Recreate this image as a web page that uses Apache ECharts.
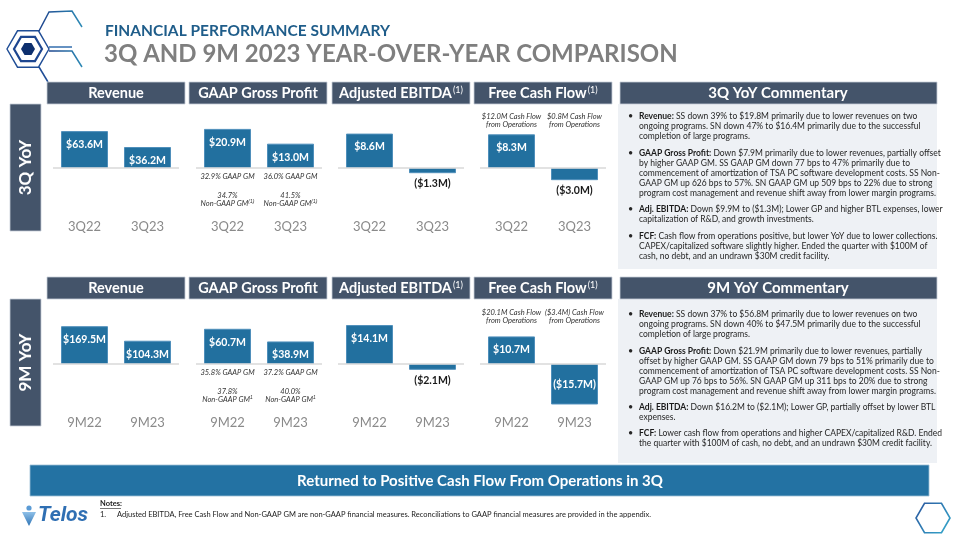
<!DOCTYPE html>
<html><head><meta charset="utf-8">
<script src="https://cdn.jsdelivr.net/npm/echarts@6/dist/echarts.min.js"></script>
<style>html,body{margin:0;padding:0;background:#fff}#c{width:960px;height:540px}</style>
</head><body><div id="c"></div>
<script>
// ---------------- DATA ----------------
const cats3Q = ['3Q22', '3Q23'];
const cats9M = ['9M22', '9M23'];
const revenue3Q = [63.6, 36.2];
const grossProfit3Q = [20.9, 13.0];
const ebitda3Q = [8.6, -1.3];
const fcf3Q = [8.3, -3.0];
const revenue9M = [169.5, 104.3];
const grossProfit9M = [60.7, 38.9];
const ebitda9M = [14.1, -2.1];
const fcf9M = [10.7, -15.7];
const gaapGM3Q = ['32.9% GAAP GM', '36.0% GAAP GM'];
const nonGaapGM3Q = ['34.7%', '41.5%'];
const gaapGM9M = ['35.8% GAAP GM', '37.2% GAAP GM'];
const nonGaapGM9M = ['37.8%', '40.0%'];
const cfo3Q = ['$12.0M Cash Flow', '$0.8M Cash Flow'];
const cfo9M = ['$20.1M Cash Flow', '($3.4M) Cash Flow'];
const panelTitles = ['Revenue', 'GAAP Gross Profit', 'Adjusted EBITDA', 'Free Cash Flow'];
const panelSups = ['', '', '(1)', '(1)'];

const commentary3Q = [
  ['Revenue:', 'SS down 39% to $19.8M primarily due to lower revenues on two', 'ongoing programs. SN down 47% to $16.4M primarily due to the successful', 'completion of large programs.'],
  ['GAAP Gross Profit:', 'Down $7.9M primarily due to lower revenues, partially offset', 'by higher GAAP GM. SS GAAP GM down 77 bps to 47% primarily due to', 'commencement of amortization of TSA PC software development costs. SS Non-', 'GAAP GM up 626 bps to 57%. SN GAAP GM up 509 bps to 22% due to strong', 'program cost management and revenue shift away from lower margin programs.'],
  ['Adj. EBITDA:', 'Down $9.9M to ($1.3M); Lower GP and higher BTL expenses, lower', 'capitalization of R&D, and growth investments.'],
  ['FCF:', 'Cash flow from operations positive, but lower YoY due to lower collections.', 'CAPEX/capitalized software slightly higher. Ended the quarter with $100M of', 'cash, no debt, and an undrawn $30M credit facility.']
];
const commentary9M = [
  ['Revenue:', 'SS down 37% to $56.8M primarily due to lower revenues on two', 'ongoing programs. SN down 40% to $47.5M primarily due to the successful', 'completion of large programs.'],
  ['GAAP Gross Profit:', 'Down $21.9M primarily due to lower revenues, partially', 'offset by higher GAAP GM. SS GAAP GM down 79 bps to 51% primarily due to', 'commencement of amortization of TSA PC software development costs. SS Non-', 'GAAP GM up 76 bps to 56%. SN GAAP GM up 311 bps to 20% due to strong', 'program cost management and revenue shift away from lower margin programs.'],
  ['Adj. EBITDA:', 'Down $16.2M to ($2.1M); Lower GP, partially offset by lower BTL', 'expenses.'],
  ['FCF:', 'Lower cash flow from operations and higher CAPEX/capitalized R&D. Ended', 'the quarter with $100M of cash, no debt, and an undrawn $30M credit facility.']
];

// ---------------- LAYOUT / STYLE ----------------
const FONT = 'Lato, "Liberation Sans", Arial, sans-serif';
const HEAD = '#44546a';
const BAR = '#22709f';
const rows = [
  { top: 110, zero: 168, bottom: 215, header: 82, cats: cats3Q,
    series: [revenue3Q, grossProfit3Q, ebitda3Q, fcf3Q], maxes: [100, 31, 14.5, 14.3],
    gm: gaapGM3Q, ngm: nonGaapGM3Q, ngmLabel: 'Non-GAAP GM{s|(1)}', cfo: cfo3Q,
    comm: commentary3Q, commTitle: '3Q YoY Commentary', commY: [116, 153, 209, 236], side: '3Q YoY', sideY: 104 },
  { top: 306, zero: 364, bottom: 411, header: 277, cats: cats9M,
    series: [revenue9M, grossProfit9M, ebitda9M, fcf9M], maxes: [260, 100, 21, 22.5],
    gm: gaapGM9M, ngm: nonGaapGM9M, ngmLabel: 'Non-GAAP GM{s|1}', cfo: cfo9M,
    comm: commentary9M, commTitle: '9M YoY Commentary', commY: [314, 351, 407, 433], side: '9M YoY', sideY: 299 }
];
const gridLefts = [53, 196, 338, 480];
const headerX = [[47, 185], [189, 327], [332, 470], [474, 612]];

const fmt = v => v < 0 ? '($' + Math.abs(v).toFixed(1) + 'M)' : '$' + v.toFixed(1) + 'M';

const grids = [], xAxes = [], yAxes = [], series = [];
let gi = 0;
rows.forEach((r, ri) => {
  r.series.forEach((vals, pi) => {
    const max = r.maxes[pi];
    grids.push({ left: gridLefts[pi], width: 126, top: r.top, height: r.bottom - r.top });
    xAxes.push({ type: 'category', gridIndex: gi, data: r.cats,
      axisLine: { show: false, onZero: false }, axisTick: { show: false },
      axisLabel: { color: '#8a8a8a', fontSize: 13, fontFamily: FONT, margin: 5 } });
    yAxes.push({ type: 'value', gridIndex: gi, show: false, max: max,
      min: -max * (r.bottom - r.zero) / (r.zero - r.top) });
    series.push({
      type: 'bar', xAxisIndex: gi, yAxisIndex: gi, barWidth: 47,
      itemStyle: { color: BAR, borderColor: '#4f8fbb', borderWidth: 1 },
      label: { show: true, formatter: p => fmt(p.value), color: '#fff', fontWeight: 'bold', fontSize: 10.5, fontFamily: FONT },
      data: vals.map(v => {
        let lab;
        if (v >= 0) lab = { position: 'insideTop', distance: 8 };
        else if (Math.abs(v) < max * 0.4) lab = { position: 'outside', distance: 5, color: '#1a1a1a' };
        else lab = { position: 'inside' };
        return { value: v, label: lab };
      }),
      markLine: { silent: true, symbol: 'none', label: { show: false },
        lineStyle: { color: '#d9d9d9', type: 'solid', width: 1.5 }, data: [{ yAxis: 0 }] }
    });
    gi++;
  });
});

// ---------------- STATIC GRAPHICS ----------------
const G = [];
function hexPts(cx, cy, r) {
  const pts = [];
  for (let k = 0; k < 6; k++) { const a = Math.PI / 3 * k; pts.push([cx + r * Math.cos(a), cy + r * Math.sin(a)]); }
  return pts;
}
// logo top-left
const logoGrad = { type: 'linear', x: 0, y: 0, x2: 1, y2: 0, colorStops: [{ offset: 0, color: '#1c3f8a' }, { offset: 1, color: '#2f8fb8' }] };
G.push({ type: 'polygon', shape: { points: hexPts(28, 49, 21) }, style: { fill: 'none', stroke: '#1f4d96', lineWidth: 1.4 } });
G.push({ type: 'polygon', shape: { points: hexPts(28, 49, 14) }, style: { fill: 'none', stroke: '#1d4690', lineWidth: 2.2 } });
G.push({ type: 'polygon', shape: { points: hexPts(28, 49, 7) }, style: { fill: '#0d2f6e' } });
G.push({ type: 'polyline', shape: { points: [[39, 31], [49, 12], [72, 11], [82, 27]] }, style: { stroke: logoGrad, lineWidth: 1.5, fill: 'none' } });
G.push({ type: 'polyline', shape: { points: [[49, 47], [72, 47]] }, style: { stroke: '#2563a8', lineWidth: 1.4, fill: 'none' } });
G.push({ type: 'polyline', shape: { points: [[49, 51], [72, 51], [82, 67]] }, style: { stroke: logoGrad, lineWidth: 1.5, fill: 'none' } });
G.push({ type: 'polyline', shape: { points: [[39, 67], [48, 82]] }, style: { stroke: '#1f4d96', lineWidth: 1.5, fill: 'none' } });
// titles
G.push({ type: 'text', style: { x: 105, y: 31, text: 'FINANCIAL PERFORMANCE SUMMARY', fill: '#1f5d8a', fontSize: 15.5, fontWeight: 'bold', fontFamily: FONT, verticalAlign: 'middle' } });
G.push({ type: 'text', style: { x: 104, y: 54, text: '3Q AND 9M 2023 YEAR-OVER-YEAR COMPARISON', fill: '#7f7f7f', fontSize: 24, fontWeight: 'bold', fontFamily: FONT, verticalAlign: 'middle' } });

rows.forEach(r => {
  // side label
  G.push({ type: 'rect', shape: { x: 10, y: r.sideY, width: 31, height: 127 }, style: { fill: HEAD, stroke: '#c7ced8', lineWidth: 0.8 } });
  G.push({ type: 'text', x: 26, y: r.sideY + 63.5, rotation: Math.PI / 2,
    style: { x: 0, y: 0, text: r.side, fill: '#fff', fontSize: 17, fontWeight: 'bold', fontFamily: FONT, align: 'center', verticalAlign: 'middle' } });
  // panel headers
  headerX.forEach((hx, pi) => {
    G.push({ type: 'rect', shape: { x: hx[0], y: r.header, width: hx[1] - hx[0], height: 22 }, style: { fill: HEAD, stroke: '#c7ced8', lineWidth: 0.8 } });
    G.push({ type: 'text', style: { x: (hx[0] + hx[1]) / 2, y: r.header + 11.5,
      text: panelTitles[pi] + (panelSups[pi] ? '{s|' + panelSups[pi] + '}' : ''),
      rich: { s: { fontSize: 9, fill: '#fff', fontFamily: FONT, verticalAlign: 'top', padding: [0, 0, 6, 1] } },
      fill: '#fff', fontSize: 14.5, fontWeight: 'bold', fontFamily: FONT, align: 'center', verticalAlign: 'middle' } });
  });
  // commentary
  G.push({ type: 'rect', shape: { x: 618, y: r.header + 22, width: 319, height: r.header === 82 ? 165 : 164 }, style: { fill: '#eef1f5' } });
  G.push({ type: 'rect', shape: { x: 620, y: r.header, width: 317, height: 22 }, style: { fill: HEAD, stroke: '#c7ced8', lineWidth: 0.8 } });
  G.push({ type: 'text', style: { x: 778, y: r.header + 11.5, text: r.commTitle, fill: '#fff', fontSize: 15, fontWeight: 'bold', fontFamily: FONT, align: 'center', verticalAlign: 'middle' } });
  r.comm.forEach((item, k) => {
    const y0 = r.commY[k];
    G.push({ type: 'text', style: { x: 628, y: y0, text: '•', fill: '#262626', fontSize: 9, fontFamily: FONT, verticalAlign: 'middle' } });
    item.slice(1).forEach((line, li) => {
      const t = li === 0 ? '{b|' + item[0] + '} ' + line : line;
      G.push({ type: 'text', style: { x: 639, y: y0 + li * 10, text: t,
        rich: { b: { fontWeight: 'bold', fontSize: 8.5, fontFamily: FONT, fill: '#1a1a1a' } },
        fill: '#262626', fontSize: 8.5, fontFamily: FONT, verticalAlign: 'middle' } });
    });
  });
});
// banner
G.push({ type: 'rect', shape: { x: 30, y: 465, width: 899, height: 31 }, style: { fill: '#2372a3', stroke: '#9dbfd6', lineWidth: 0.8 } });
G.push({ type: 'text', style: { x: 480, y: 481, text: 'Returned to Positive Cash Flow From Operations in 3Q', fill: '#fff', fontSize: 15, fontWeight: 'bold', fontFamily: FONT, align: 'center', verticalAlign: 'middle' } });
// notes
G.push({ type: 'text', style: { x: 100, y: 504, text: 'Notes:', fill: '#1a1a1a', fontSize: 7.5, fontWeight: 'bold', fontFamily: FONT, verticalAlign: 'middle' } });
G.push({ type: 'line', shape: { x1: 100, y1: 508.5, x2: 121, y2: 508.5 }, style: { stroke: '#1a1a1a', lineWidth: 0.6 } });
G.push({ type: 'text', style: { x: 100, y: 515, text: '1.', fill: '#1a1a1a', fontSize: 7.5, fontFamily: FONT, verticalAlign: 'middle' } });
G.push({ type: 'text', style: { x: 117, y: 515, text: 'Adjusted EBITDA, Free Cash Flow and Non-GAAP GM are non-GAAP financial measures. Reconciliations to GAAP financial measures are provided in the appendix.', fill: '#1a1a1a', fontSize: 7.5, fontFamily: FONT, verticalAlign: 'middle' } });
// Telos logo
G.push({ type: 'circle', shape: { cx: 29, cy: 508, r: 2.6 }, style: { fill: '#5b9bd5' } });
G.push({ type: 'polygon', shape: { points: [[22, 512], [36, 512], [29, 526]] }, style: { fill: { type: 'linear', x: 0, y: 0, x2: 0, y2: 1, colorStops: [{ offset: 0, color: '#8fc0e8' }, { offset: 1, color: '#2f74b5' }] } } });
G.push({ type: 'text', style: { x: 38, y: 516, text: 'Telos', fill: '#2f6fb3', fontSize: 21, fontWeight: 'bold', fontStyle: 'italic', fontFamily: '"Liberation Sans Narrow", "Roboto", ' + FONT, verticalAlign: 'middle' } });
// bottom-right hexagon
G.push({ type: 'polygon', shape: { points: hexPts(933, 518, 17) }, style: { fill: 'none', lineWidth: 1.6,
  stroke: { type: 'linear', x: 0, y: 0, x2: 1, y2: 1, colorStops: [{ offset: 0, color: '#2a4f9a' }, { offset: 1, color: '#36b0d0' }] } } });

const chart = echarts.init(document.getElementById('c'), null, { renderer: 'canvas' });
chart.setOption({
  animation: false,
  backgroundColor: '#ffffff',
  grid: grids, xAxis: xAxes, yAxis: yAxes, series: series,
  graphic: G.slice()
});

// ---------------- ANNOTATIONS positioned via axes ----------------
const A = [];
rows.forEach((r, ri) => {
  const gpIdx = ri * 4 + 1, fcfIdx = ri * 4 + 3;
  r.cats.forEach((c, j) => {
    const pg = chart.convertToPixel({ gridIndex: gpIdx }, [c, 0]);
    const it = { fill: '#333', fontSize: 7.5, fontStyle: 'italic', fontFamily: FONT, align: 'center', verticalAlign: 'middle' };
    A.push({ type: 'text', style: Object.assign({ x: pg[0], y: pg[1] + 9, text: r.gm[j] }, it) });
    A.push({ type: 'text', style: Object.assign({ x: pg[0], y: pg[1] + 28, text: r.ngm[j] }, it) });
    A.push({ type: 'text', style: Object.assign({ x: pg[0], y: pg[1] + 35.5, text: r.ngmLabel,
      rich: { s: { fontSize: 5, fontStyle: 'italic', fill: '#333', verticalAlign: 'top' } } }, it) });
    const pf = chart.convertToPixel({ gridIndex: fcfIdx }, [c, 0]);
    A.push({ type: 'text', style: Object.assign({ x: pf[0], y: pf[1] - 51, text: r.cfo[j] }, it) });
    A.push({ type: 'text', style: Object.assign({ x: pf[0], y: pf[1] - 43, text: 'from Operations' }, it) });
  });
});
chart.setOption({ graphic: G.concat(A) });
</script>
</body></html>
